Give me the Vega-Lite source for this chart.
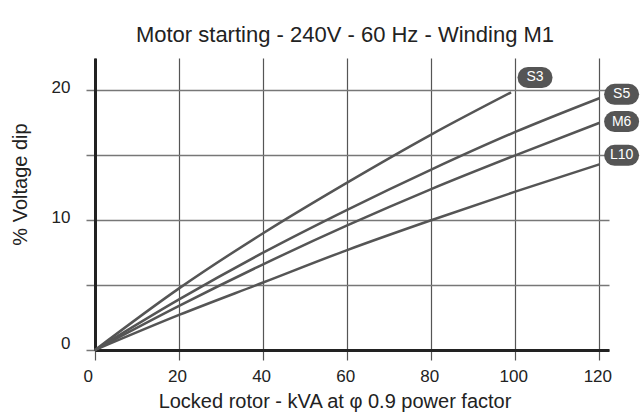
{
  "$schema": "https://vega.github.io/schema/vega-lite/v6.json",
  "width": 514,
  "height": 292,
  "autosize": "none",
  "padding": {"left": 95, "top": 58, "right": 31, "bottom": 62},
  "background": "white",
  "title": {
    "text": "Motor starting - 240V - 60 Hz - Winding M1",
    "font": "Liberation Sans",
    "fontSize": 22,
    "fontWeight": "normal",
    "color": "#222",
    "anchor": "middle",
    "dx": -7,
    "offset": 11
  },
  "config": {
    "view": {"stroke": null},
    "axis": {
      "domainColor": "#222",
      "domainWidth": 3,
      "labelFont": "Liberation Sans",
      "labelFontSize": 17,
      "labelColor": "#222",
      "titleFont": "Liberation Sans",
      "titleFontSize": 20,
      "titleFontWeight": "normal",
      "titleColor": "#222"
    }
  },
  "datasets": {
    "curves": [
      {"series": "S3", "kva": 0, "dip": 0},
      {"series": "S3", "kva": 20, "dip": 4.75},
      {"series": "S3", "kva": 40, "dip": 9.0},
      {"series": "S3", "kva": 60, "dip": 12.9},
      {"series": "S3", "kva": 80, "dip": 16.6},
      {"series": "S3", "kva": 99, "dip": 19.85},
      {"series": "S5", "kva": 0, "dip": 0},
      {"series": "S5", "kva": 20, "dip": 3.9},
      {"series": "S5", "kva": 40, "dip": 7.5},
      {"series": "S5", "kva": 60, "dip": 10.8},
      {"series": "S5", "kva": 80, "dip": 13.9},
      {"series": "S5", "kva": 100, "dip": 16.8},
      {"series": "S5", "kva": 120, "dip": 19.4},
      {"series": "M6", "kva": 0, "dip": 0},
      {"series": "M6", "kva": 20, "dip": 3.4},
      {"series": "M6", "kva": 40, "dip": 6.6},
      {"series": "M6", "kva": 60, "dip": 9.6},
      {"series": "M6", "kva": 80, "dip": 12.4},
      {"series": "M6", "kva": 100, "dip": 15.0},
      {"series": "M6", "kva": 120, "dip": 17.5},
      {"series": "L10", "kva": 0, "dip": 0},
      {"series": "L10", "kva": 20, "dip": 2.7},
      {"series": "L10", "kva": 40, "dip": 5.2},
      {"series": "L10", "kva": 60, "dip": 7.7},
      {"series": "L10", "kva": 80, "dip": 10.0},
      {"series": "L10", "kva": 100, "dip": 12.2},
      {"series": "L10", "kva": 120, "dip": 14.3}
    ],
    "badges": [
      {"series": "S3", "kva": 104.7, "dip": 21.0},
      {"series": "S5", "kva": 125.3, "dip": 19.7},
      {"series": "M6", "kva": 125.3, "dip": 17.6},
      {"series": "L10", "kva": 125.3, "dip": 15.0}
    ]
  },
  "encoding": {
    "x": {
      "field": "kva",
      "type": "quantitative",
      "scale": {"domain": [0, 122.3], "nice": false, "zero": false},
      "axis": {
        "title": "Locked rotor - kVA at φ 0.9 power factor",
        "values": [0, 20, 40, 60, 80, 100, 120],
        "grid": true,
        "gridColor": "#555",
        "gridWidth": 1.2,
        "tickColor": "#555",
        "tickWidth": 1.2,
        "tickSize": 10,
        "labelPadding": 8,
        "labelOffset": {"condition": {"test": "datum.value == 0", "value": -12}, "value": -2},
        "titleX": 239.5,
        "titleY": 57,
        "titleBaseline": "alphabetic",
        "titleAlign": "center"
      }
    },
    "y": {
      "field": "dip",
      "type": "quantitative",
      "scale": {"domain": [0, 22.5], "nice": false, "zero": false},
      "axis": {
        "title": "% Voltage dip",
        "values": [0, 5, 10, 15, 20],
        "labelExpr": "datum.value % 10 == 0 ? datum.label : ''",
        "grid": true,
        "gridColor": "#777",
        "gridWidth": 1.5,
        "tickColor": "#777",
        "tickWidth": 1.5,
        "tickSize": 9,
        "labelPadding": 16,
        "labelOffset": {"condition": {"test": "datum.value == 0", "value": -7}, "value": -3},
        "titleX": -74.5,
        "titleY": 126,
        "titleAngle": -90,
        "titleBaseline": "middle",
        "titleAlign": "center"
      }
    }
  },
  "layer": [
    {
      "data": {"name": "curves"},
      "mark": {"type": "line", "color": "#555", "strokeWidth": 2.5, "interpolate": "monotone"},
      "encoding": {"detail": {"field": "series"}}
    },
    {
      "data": {"name": "badges"},
      "mark": {
        "type": "rule",
        "color": "#555",
        "strokeWidth": 21,
        "strokeCap": "round",
        "xOffset": -7,
        "x2Offset": 7
      },
      "encoding": {
        "x2": {"field": "kva"}
      }
    },
    {
      "data": {"name": "badges"},
      "mark": {"type": "text", "color": "white", "font": "Liberation Sans", "fontSize": 14, "align": "center", "baseline": "middle"},
      "encoding": {"text": {"field": "series"}}
    }
  ]
}
